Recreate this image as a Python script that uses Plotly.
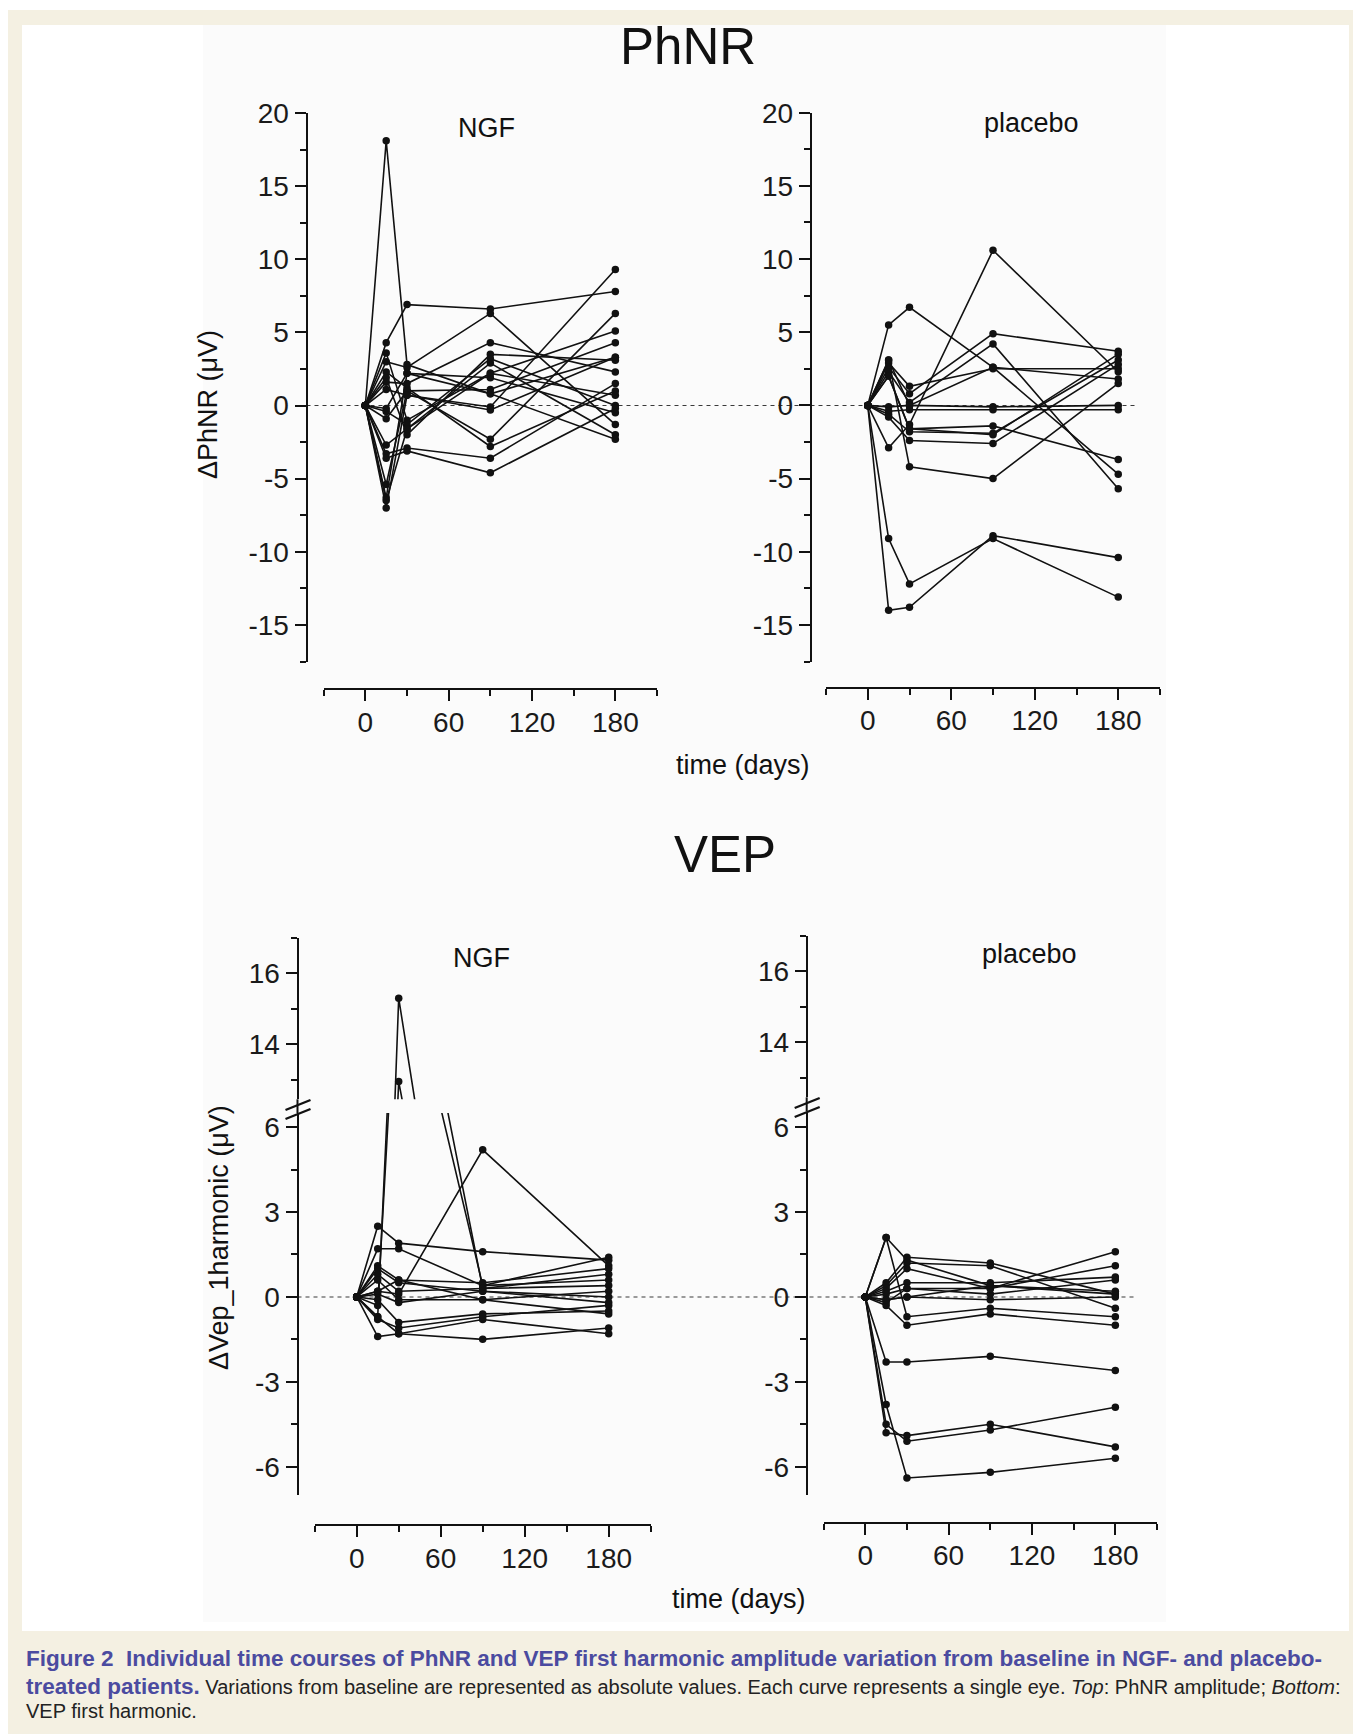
import plotly.graph_objects as go

# The page body adds an 8 px margin, so the figure is drawn 8 px smaller and
# every position below is given in page pixels and converted with that offset.
OFF = 8
W, H = 1361 - OFF, 1734 - OFF
INK = "#111111"

# ---------------- data ----------------
days = [0, 15, 30, 90, 180]
x_tick_vals = [0, 60, 120, 180]
x_tick_text = ["0", "60", "120", "180"]

phnr_tick_vals = [-15, -10, -5, 0, 5, 10, 15, 20]
phnr_tick_text = ["-15", "-10", "-5", "0", "5", "10", "15", "20"]
vep_low_tick_vals = [-6, -3, 0, 3, 6]
vep_low_tick_text = ["-6", "-3", "0", "3", "6"]
vep_high_tick_vals = [14, 16]
vep_high_tick_text = ["14", "16"]

# PhNR, NGF-treated eyes (one entry per eye, baseline = 0)
phnr_ngf_d15 = [18.1, 4.3, 3.6, 3.0, 2.3, 1.9, 1.6, 1.1, -0.2, -0.4, -0.9, -2.7, -3.3, -3.6, -5.4, -6.3, -6.5, -7.0]
phnr_ngf_d30 = [2.8, 6.9, -1.0, 2.6, 1.2, -2.0, 1.5, 0.7, 2.2, -1.3, 1.0, -1.6, -2.9, -3.1, 1.0, 2.2, -1.6, 0.7]
phnr_ngf_d90 = [0.8, 6.6, 2.2, 6.3, -2.8, 3.5, 4.3, -0.1, 1.9, 3.2, -2.3, 2.9, -3.6, -4.6, 1.1, 0.8, 2.2, -0.3]
phnr_ngf_d180 = [3.3, 7.8, 5.1, -1.3, 1.0, 3.1, 2.3, 9.3, -0.5, 0.0, 6.3, -2.0, 1.5, -0.2, 4.3, -2.3, 0.7, 3.3]

# PhNR, placebo-treated eyes
phnr_pla_d15 = [-14.0, -9.1, 5.5, -2.9, 3.1, 2.9, 2.6, 2.3, 2.0, -0.1, -0.4, -0.6, -0.8, 2.0, 3.1]
phnr_pla_d30 = [-13.8, -12.2, 6.7, -1.3, -4.2, 1.3, 0.8, 0.2, -1.6, 0.0, -0.3, -1.8, -2.4, -1.6, 0.0]
phnr_pla_d90 = [-8.9, -9.1, 2.6, 10.6, -5.0, 2.5, 4.9, 4.2, -1.4, -0.1, -0.3, -1.9, -2.6, -2.0, 2.6]
phnr_pla_d180 = [-10.4, -13.1, -4.7, 2.3, 1.5, 2.5, 3.7, -5.7, -3.7, 0.0, -0.3, 3.1, 2.8, 3.5, 1.8]

# VEP first harmonic, NGF-treated eyes
vep_ngf_d15 = [2.5, 1.7, -0.7, -0.3, 0.2, 1.1, 1.0, 0.8, 0.6, 0.1, -0.1, -0.8, -1.4, -0.7, 0.2]
vep_ngf_d30 = [1.9, 1.7, 15.3, 12.95, 0.1, 0.6, 0.5, 0.2, -0.1, -0.2, -0.9, -1.1, -1.3, -1.3, 0.6]
vep_ngf_d90 = [1.6, 0.4, 0.3, 0.4, 5.2, 0.5, 0.2, 0.3, -0.1, 0.2, -0.6, -0.7, -1.5, -0.8, -0.1]
vep_ngf_d180 = [1.3, 1.4, 0.8, 0.6, 1.1, 1.0, -0.2, 0.4, 0.2, 0.0, -0.5, -0.3, -1.1, -1.3, -0.6]

# VEP first harmonic, placebo-treated eyes
vep_pla_d15 = [-2.3, -3.8, -4.8, -4.5, 2.1, 2.1, 0.5, 0.4, 0.3, 0.2, 0.1, -0.1, -0.3, -0.2, -0.1]
vep_pla_d30 = [-2.3, -6.4, -4.9, -5.1, 1.3, -0.7, 1.4, 1.2, 1.0, 0.5, 0.3, 0.0, -1.0, 0.3, 0.0]
vep_pla_d90 = [-2.1, -6.2, -4.5, -4.7, 0.4, -0.4, 1.2, 1.1, 0.3, 0.5, 0.1, -0.1, -0.6, 0.3, 0.4]
vep_pla_d180 = [-2.6, -5.7, -5.3, -3.9, 0.1, -0.7, 0.1, -0.4, 1.6, 0.7, 0.6, 0.0, -1.0, 1.1, 0.2]


# ---------------- helpers ----------------
def fx(px):
    return (px - OFF) / W


def fy(py):
    return 1 - (py - OFF) / H


TICKFONT = dict(family="Liberation Sans, Arial, sans-serif", size=28, color="#1a1a1a")


def xaxis_def(x0, x1, ypos):
    return dict(
        domain=[fx(x0), fx(x1)], range=[-30, 210], anchor="free", position=fy(ypos),
        showline=True, linecolor=INK, linewidth=2, automargin=False,
        ticks="outside", ticklen=11, tickwidth=2, tickcolor=INK,
        tickmode="array", tickvals=x_tick_vals, ticktext=x_tick_text,
        minor=dict(tickmode="linear", tick0=0, dtick=30, ticks="outside", ticklen=6,
                   tickwidth=2, tickcolor=INK, showgrid=False),
        showgrid=False, zeroline=False, tickfont=TICKFONT, ticklabelstandoff=-3,
        fixedrange=True,
    )


def yaxis_def(y_top, y_bot, xpos, rng, tv, tt, minor_dt, tick0=0):
    return dict(
        domain=[fy(y_bot), fy(y_top)], range=rng, anchor="free", position=fx(xpos), side="left",
        showline=True, linecolor=INK, linewidth=2, automargin=False,
        ticks="outside", ticklen=11, tickwidth=2, tickcolor=INK,
        tickmode="array", tickvals=tv, ticktext=tt,
        minor=dict(tickmode="linear", tick0=tick0, dtick=minor_dt, ticks="outside", ticklen=6,
                   tickwidth=2, tickcolor=INK, showgrid=False),
        showgrid=False, zeroline=False, tickfont=TICKFONT, ticklabelstandoff=0,
        fixedrange=True,
    )


fig = go.Figure()


def add_series(cols, xa, ya_list):
    d15, d30, d90, d180 = cols
    for i in range(len(d15)):
        vals = [0, d15[i], d30[i], d90[i], d180[i]]
        for ya in ya_list:
            fig.add_trace(go.Scatter(
                x=days, y=vals, mode="lines+markers", xaxis=xa, yaxis=ya,
                line=dict(color=INK, width=1.6), marker=dict(size=7.5, color=INK),
                showlegend=False, hoverinfo="skip",
            ))


add_series((phnr_ngf_d15, phnr_ngf_d30, phnr_ngf_d90, phnr_ngf_d180), "x", ["y"])
add_series((phnr_pla_d15, phnr_pla_d30, phnr_pla_d90, phnr_pla_d180), "x2", ["y2"])
add_series((vep_ngf_d15, vep_ngf_d30, vep_ngf_d90, vep_ngf_d180), "x3", ["y3", "y4"])
add_series((vep_pla_d15, vep_pla_d30, vep_pla_d90, vep_pla_d180), "x4", ["y5", "y6"])

# ---------------- axes ----------------
Y_TOP_T, Y_TOP_B = 113, 661.5
VL_T, VL_B = 1113, 1495
VH_T, VH_B = 937.8, 1099.3

fig.update_layout(
    xaxis=xaxis_def(323.7, 657, 689.3),
    yaxis=yaxis_def(Y_TOP_T, Y_TOP_B, 306.5, [-17.5, 20], phnr_tick_vals, phnr_tick_text, 2.5),
    xaxis2=xaxis_def(826, 1160, 687.5),
    yaxis2=yaxis_def(Y_TOP_T - 0.3, Y_TOP_B, 810.7, [-17.5, 20], phnr_tick_vals, phnr_tick_text, 2.5),
    xaxis3=xaxis_def(314.7, 650.7, 1525),
    yaxis3=yaxis_def(VL_T, VL_B, 297.5, [-7, 6.5], vep_low_tick_vals, vep_low_tick_text, 1.5),
    yaxis4=yaxis_def(VH_T, VH_B, 297.5, [12.45, 17], vep_high_tick_vals, vep_high_tick_text, 1),
    xaxis4=xaxis_def(823.6, 1157, 1522.7),
    yaxis5=yaxis_def(VL_T, VL_B, 806.7, [-7, 6.5], vep_low_tick_vals, vep_low_tick_text, 1.5),
    yaxis6=yaxis_def(VH_T - 2, VH_B - 2, 806.7, [12.45, 17], vep_high_tick_vals, vep_high_tick_text, 1),
)

# ---------------- shapes ----------------
shapes = [
    dict(type="rect", xref="paper", yref="paper", x0=fx(8), x1=1, y0=0, y1=fy(10),
         fillcolor="#f4f0e2", line=dict(width=0), layer="below"),
    dict(type="rect", xref="paper", yref="paper", x0=fx(22), x1=fx(1349), y0=fy(1631), y1=fy(25),
         fillcolor="#ffffff", line=dict(width=0), layer="below"),
    dict(type="rect", xref="paper", yref="paper", x0=fx(203), x1=fx(1166), y0=fy(1622), y1=fy(25),
         fillcolor="#fbfbfb", line=dict(width=0), layer="below"),
    # dashed zero reference lines
    dict(type="line", xref="paper", yref="y", x0=fx(306.5), x1=fx(1137), y0=0, y1=0,
         line=dict(color="#3a3a3a", width=1.1, dash="4px,4px"), layer="below"),
    dict(type="line", xref="paper", yref="y3", x0=fx(297.5), x1=fx(1137), y0=0, y1=0,
         line=dict(color="#3a3a3a", width=1.1, dash="4px,4px"), layer="below"),
]
# axis break connectors and marks
for ax_x in (297.5, 806.7):
    off = 0 if ax_x < 500 else -2
    shapes.append(dict(type="line", xref="paper", yref="paper", x0=fx(ax_x), x1=fx(ax_x),
                       y0=fy(VH_B + off), y1=fy(VL_T + off), line=dict(color=INK, width=2)))
    for dy in (0, 9):
        shapes.append(dict(type="line", xref="paper", yref="paper",
                           x0=fx(ax_x - 12), x1=fx(ax_x + 13),
                           y0=fy(1110 + dy + off), y1=fy(1100 + dy + off),
                           line=dict(color=INK, width=2.3)))
fig.update_layout(shapes=shapes)

# ---------------- text ----------------
ann = []


def txt(s, x, y, size, angle=0, xanchor="center", family="Liberation Sans, Arial, sans-serif", color="#111"):
    ann.append(dict(text=s, x=fx(x), y=fy(y), xref="paper", yref="paper", showarrow=False,
                    xanchor=xanchor, yanchor="middle", textangle=angle,
                    font=dict(family=family, size=size, color=color)))


txt("PhNR", 688, 47, 51)
txt("VEP", 725, 854, 51)
txt("NGF", 487, 128, 27)
txt("placebo", 1031, 123, 27)
txt("NGF", 481, 958, 27)
txt("placebo", 1029, 954, 27)
txt("ΔPhNR (μV)", 208, 405, 27, angle=-90)
txt("ΔVep_1harmonic (μV)", 219, 1238, 27, angle=-90)
txt("time (days)", 743, 765, 27)
txt("time (days)", 739, 1599, 27)

BLUE = "#4b4ba0"
CAPF = "Liberation Sans, Arial, sans-serif"
BSTY = f"color:{BLUE};font-size:22.5px"
txt(f"<span style='{BSTY}'><b>Figure 2\u00a0 Individual time courses of PhNR and VEP first harmonic "
    f"amplitude variation from baseline in NGF- and placebo-</b></span>", 24, 1658, 20,
    xanchor="left", family=CAPF, color="#222")
txt(f"<span style='{BSTY}'><b>treated patients.</b></span> Variations from baseline are represented as "
    f"absolute values. Each curve represents a single eye. <i>Top</i>: PhNR amplitude; <i>Bottom</i>:",
    24, 1686, 20, xanchor="left", family=CAPF, color="#222")
txt("VEP first harmonic.", 24, 1711, 20, xanchor="left", family=CAPF, color="#222")

fig.update_layout(
    annotations=ann,
    width=W, height=H, margin=dict(l=0, r=0, t=0, b=0, autoexpand=False),
    paper_bgcolor="#ffffff", plot_bgcolor="rgba(0,0,0,0)",
    showlegend=False,
)

fig.write_html("out.html")
